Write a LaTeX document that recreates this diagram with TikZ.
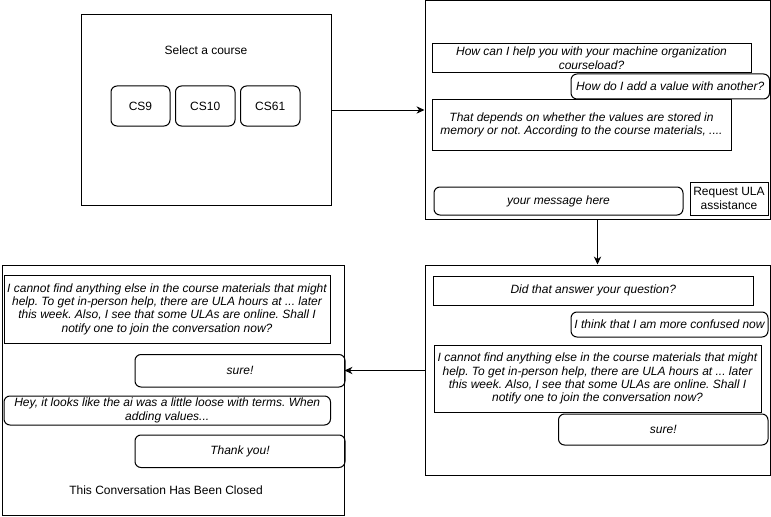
\documentclass[tikz,border=0pt]{standalone}
\usepackage{fontspec}
\setmainfont{Liberation Sans}
\usetikzlibrary{arrows.meta}
\begin{document}
\frenchspacing
\begin{tikzpicture}[x=0.75pt,y=-0.75pt,
  sz/.style 2 args={minimum width=#1*0.75pt, minimum height=#2*0.75pt},
  txt/.style={font=\fontsize{9}{10}\selectfont},
  screen/.style={draw, line width=0.75pt, inner sep=0pt},
  botmsg/.style={draw, line width=0.75pt, inner sep=0pt, align=center, font=\fontsize{9}{10}\selectfont\itshape},
  usrmsg/.style={botmsg, rounded corners=4.5pt},
  plainbox/.style={draw, line width=0.75pt, inner sep=0pt, align=center, font=\fontsize{9}{10}\selectfont},
  course/.style={draw, line width=0.75pt, rounded corners=4.5pt, inner sep=0pt, font=\fontsize{9}{10}\selectfont},
  conn/.style={line width=0.75pt, -{Stealth[length=6pt,width=5.5pt]}}]
\useasboundingbox (0,0) rectangle (771,517);

% Screen 1
\node[screen, sz={250}{190}] (s1) at (206,110) {};
\node[txt] (sel) at (206,50) {Select a course};
\node[course, sz={59}{40}] (cs9) at (140.5,106) {CS9};
\node[course, sz={59.5}{40}] (cs10) at (205.25,106) {CS10};
\node[course, sz={59.5}{40}] (cs61) at (270.25,106) {CS61};

% Screen 2
\node[screen, sz={345}{218}] (s2) at (597.5,110) {};
\node[botmsg, sz={319}{29.5}] (m1) at (591.5,58.25) {How can I help you with your machine organization\\courseload?};
\node[usrmsg, sz={198.5}{25}] (m2) at (670.25,86.5) {How do I add a value with another?};
\node[botmsg, sz={299}{50.5}] (m3) at (581.5,124.75) {That depends on whether the values are stored in\\memory or not. According to the course materials, ....};
\node[usrmsg, sz={249}{28}] (inp) at (558.5,201) {your message here};
\node[plainbox, sz={78}{33}] (ula) at (729,198.5) {Request ULA\\assistance};

% Screen 3
\node[screen, sz={345}{210}] (s3) at (597.5,370) {};
\node[botmsg, sz={319.5}{29}] (n1) at (593.25,290.5) {Did that answer your question?};
\node[usrmsg, sz={197}{25}] (n2) at (669.5,324.5) {I think that I am more confused now};
\node[botmsg, sz={327}{67.5}] (n3) at (597.5,378.75) {I cannot find anything else in the course materials that might\\help. To get in-person help, there are ULA hours at ... later\\this week. Also, I see that some ULAs are online. Shall I\\notify one to join the conversation now?};
\node[usrmsg, sz={209.5}{31}] (n4) at (663.25,429.5) {sure!};

% Screen 4
\node[screen, sz={342}{250}] (s4) at (173,390) {};
\node[botmsg, sz={326}{68}] (k1) at (167,309) {I cannot find anything else in the course materials that might\\help. To get in-person help, there are ULA hours at ... later\\this week. Also, I see that some ULAs are online. Shall I\\notify one to join the conversation now?};
\node[usrmsg, sz={210}{32.5}] (k2) at (240,370.75) {sure!};
\node[usrmsg, sz={326.5}{29}] (k3) at (167.25,410.5) {Hey, it looks like the ai was a little loose with terms. When\\adding values...};
\node[usrmsg, sz={210}{32.5}] (k4) at (240,451.25) {Thank you!};
\node[txt] (closed) at (166,490) {This Conversation Has Been Closed};

% Connectors
\draw[conn] (s1.east |- 0,110) -- (s2.west |- 0,110);
\draw[conn] (s2.south -| 597.5,0) -- (s3.north -| 597.5,0);
\draw[conn] (s3.west |- 0,370.5) -- (s4.east |- 0,370.5);
\end{tikzpicture}
\end{document}
